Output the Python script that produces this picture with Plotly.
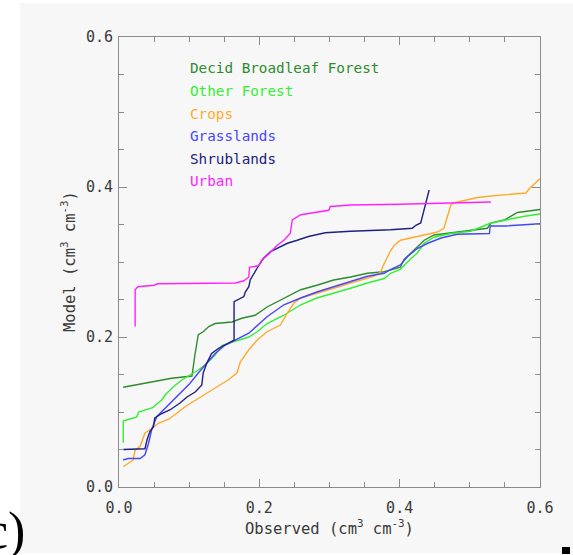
import plotly.graph_objects as go

# ---- data ----
series_names = ["Decid Broadleaf Forest", "Other Forest", "Crops", "Grasslands", "Shrublands", "Urban"]
series_colors = ["#2e8b2e", "#33ee33", "#ffaa2a", "#4646ff", "#20207e", "#ff22ff"]

decid_x = [0.006, 0.023, 0.042, 0.056, 0.075, 0.104, 0.106, 0.108, 0.111, 0.113, 0.120, 0.128, 0.137, 0.161,
           0.175, 0.194, 0.211, 0.235, 0.259, 0.282, 0.306, 0.33, 0.354, 0.378, 0.387, 0.401, 0.406, 0.425,
           0.435, 0.449, 0.473, 0.501, 0.525, 0.53, 0.549, 0.568, 0.60]
decid_y = [0.133, 0.136, 0.139, 0.142, 0.145, 0.148, 0.165, 0.175, 0.192, 0.203, 0.207, 0.214, 0.218, 0.220,
           0.225, 0.229, 0.240, 0.252, 0.263, 0.269, 0.276, 0.280, 0.285, 0.287, 0.289, 0.293, 0.303, 0.320,
           0.329, 0.336, 0.339, 0.342, 0.345, 0.352, 0.356, 0.366, 0.370]

other_x = [0.006, 0.006, 0.013, 0.025, 0.028, 0.040, 0.049, 0.054, 0.061, 0.066, 0.078, 0.090, 0.101, 0.113,
           0.123, 0.137, 0.147, 0.166, 0.185, 0.197, 0.211, 0.235, 0.259, 0.282, 0.306, 0.33, 0.354, 0.378,
           0.387, 0.401, 0.411, 0.425, 0.435, 0.449, 0.473, 0.501, 0.53, 0.554, 0.578, 0.60]
other_y = [0.059, 0.088, 0.090, 0.093, 0.100, 0.103, 0.106, 0.111, 0.116, 0.123, 0.134, 0.143, 0.149, 0.156,
           0.163, 0.176, 0.189, 0.194, 0.200, 0.207, 0.218, 0.229, 0.243, 0.252, 0.258, 0.265, 0.272, 0.278,
           0.285, 0.290, 0.300, 0.312, 0.325, 0.333, 0.338, 0.341, 0.352, 0.357, 0.361, 0.364]

crops_x = [0.006, 0.013, 0.020, 0.023, 0.030, 0.037, 0.047, 0.056, 0.070, 0.082, 0.094, 0.113, 0.137, 0.156,
           0.168, 0.173, 0.185, 0.197, 0.211, 0.230, 0.240, 0.249, 0.259, 0.282, 0.306, 0.33, 0.363, 0.373,
           0.378, 0.387, 0.392, 0.401, 0.416, 0.435, 0.454, 0.463, 0.468, 0.473, 0.478, 0.511, 0.53, 0.554,
           0.58, 0.585, 0.597, 0.60]
crops_y = [0.027, 0.031, 0.036, 0.049, 0.054, 0.072, 0.078, 0.085, 0.090, 0.098, 0.107, 0.118, 0.132, 0.143,
           0.152, 0.167, 0.183, 0.196, 0.207, 0.216, 0.232, 0.245, 0.252, 0.258, 0.265, 0.272, 0.281, 0.287,
           0.298, 0.315, 0.322, 0.329, 0.332, 0.336, 0.340, 0.345, 0.360, 0.376, 0.379, 0.386, 0.388, 0.390,
           0.392, 0.398, 0.409, 0.411]

grass_x = [0.006, 0.013, 0.030, 0.037, 0.042, 0.047, 0.054, 0.066, 0.078, 0.090, 0.101, 0.113, 0.125, 0.137,
           0.151, 0.166, 0.185, 0.211, 0.235, 0.259, 0.282, 0.306, 0.33, 0.354, 0.378, 0.387, 0.401, 0.411,
           0.425, 0.44, 0.459, 0.482, 0.528, 0.529, 0.55, 0.60]
grass_y = [0.036, 0.038, 0.038, 0.043, 0.058, 0.078, 0.094, 0.105, 0.116, 0.127, 0.138, 0.152, 0.165, 0.178,
           0.189, 0.196, 0.205, 0.227, 0.243, 0.252, 0.260, 0.267, 0.274, 0.281, 0.285, 0.290, 0.296, 0.307,
           0.318, 0.325, 0.332, 0.337, 0.338, 0.348, 0.348, 0.351]

shrub_x = [0.006, 0.037, 0.040, 0.044, 0.049, 0.051, 0.061, 0.073, 0.087, 0.097, 0.109, 0.118, 0.120, 0.125,
           0.132, 0.142, 0.156, 0.164, 0.164, 0.168, 0.178, 0.180, 0.185, 0.187, 0.192, 0.197, 0.201, 0.206,
           0.216, 0.23, 0.240, 0.254, 0.27, 0.294, 0.33, 0.387, 0.418, 0.423, 0.430, 0.442]
shrub_y = [0.050, 0.051, 0.063, 0.074, 0.080, 0.092, 0.098, 0.103, 0.112, 0.120, 0.127, 0.136, 0.152, 0.165,
           0.178, 0.185, 0.192, 0.196, 0.247, 0.249, 0.254, 0.260, 0.267, 0.276, 0.285, 0.292, 0.298, 0.305,
           0.314, 0.320, 0.325, 0.329, 0.334, 0.339, 0.341, 0.343, 0.345, 0.349, 0.352, 0.396]

urban_x = [0.023, 0.023, 0.027, 0.050, 0.055, 0.166, 0.178, 0.185, 0.186, 0.199, 0.204, 0.215, 0.225, 0.235,
           0.244, 0.247, 0.259, 0.282, 0.299, 0.301, 0.33, 0.40, 0.53]
urban_y = [0.214, 0.263, 0.267, 0.269, 0.271, 0.272, 0.275, 0.280, 0.293, 0.295, 0.303, 0.312, 0.322, 0.329,
           0.338, 0.356, 0.363, 0.367, 0.369, 0.374, 0.376, 0.377, 0.380]

series_x = [decid_x, other_x, crops_x, grass_x, shrub_x, urban_x]
series_y = [decid_y, other_y, crops_y, grass_y, shrub_y, urban_y]

x_title = "Observed (cm<sup>3</sup> cm<sup>-3</sup>)"
y_title = "Model (cm<sup>3</sup> cm<sup>-3</sup>)"
panel_label = "c)"

# ---- layout constants (pixels) ----
W, H = 573, 555
L, R, T, B = 119, 540, 37, 487
pw, ph = R - L, B - T


def px2paper_x(px):
    return (px - L) / pw


def px2paper_y(py):
    return (B - py) / ph


BG = "#f7f7f7"
AXC = "#8c8c8c"
TXT = "#3a3a3a"
FONT = "DejaVu Sans Mono"

fig = go.Figure()
for name, xs, ys, col in zip(series_names, series_x, series_y, series_colors):
    fig.add_trace(go.Scatter(x=xs, y=ys, mode="lines", name=name,
                             line=dict(color=col, width=1.4), showlegend=False))

axis_common = dict(
    range=[0, 0.6], dtick=0.2, tick0=0, tickformat=".1f",
    showgrid=False, zeroline=False, showline=True, linecolor=AXC, linewidth=1,
    mirror="ticks", ticks="inside", ticklen=8, tickwidth=1, tickcolor=AXC,
    minor=dict(dtick=0.05, ticks="inside", ticklen=5, tickwidth=1, tickcolor=AXC, showgrid=False),
    tickfont=dict(family=FONT, size=15, color=TXT), fixedrange=True,
)
fig.update_xaxes(**axis_common, ticklabelstandoff=7)
fig.update_yaxes(**axis_common, ticklabelstandoff=2)

annotations = []
# legend-like labels
leg_x = px2paper_x(188)
for i, (name, col) in enumerate(zip(series_names, series_colors)):
    annotations.append(dict(xref="paper", yref="paper", x=leg_x, y=px2paper_y(68.5 + 22.5 * i),
                            xanchor="left", yanchor="middle", showarrow=False, text=name,
                            font=dict(family=FONT, size=14.3, color=col)))
# axis titles
annotations.append(dict(xref="paper", yref="paper", x=0.5, y=px2paper_y(527), xanchor="center",
                        yanchor="middle", showarrow=False, text=x_title,
                        font=dict(family=FONT, size=15.5, color=TXT)))
annotations.append(dict(xref="paper", yref="paper", x=px2paper_x(68), y=0.5, xanchor="center",
                        yanchor="middle", showarrow=False, text=y_title, textangle=-90,
                        font=dict(family=FONT, size=15.5, color=TXT)))
# panel label
annotations.append(dict(xref="paper", yref="paper", x=px2paper_x(27), y=px2paper_y(531), xanchor="right",
                        yanchor="middle", showarrow=False, text=panel_label,
                        font=dict(family="Liberation Serif", size=52, color="#000000")))

shapes = [
    dict(type="rect", xref="paper", yref="paper", layer="below",
         x0=px2paper_x(20), x1=px2paper_x(W + 5), y0=px2paper_y(553), y1=px2paper_y(3),
         fillcolor=BG, line=dict(width=0)),
    dict(type="rect", xref="paper", yref="paper",
         x0=px2paper_x(562), x1=px2paper_x(570), y0=px2paper_y(554), y1=px2paper_y(547),
         fillcolor="#000000", line=dict(width=0)),
]

fig.update_layout(
    width=W, height=H, margin=dict(l=L, r=W - R, t=T, b=H - B, pad=0),
    paper_bgcolor="#ffffff", plot_bgcolor=BG, showlegend=False,
    annotations=annotations, shapes=shapes,
)

fig.write_html("out.html", config={"displayModeBar": False, "staticPlot": True},
               post_script="document.body.style.margin='0';document.body.style.overflow='hidden';")
